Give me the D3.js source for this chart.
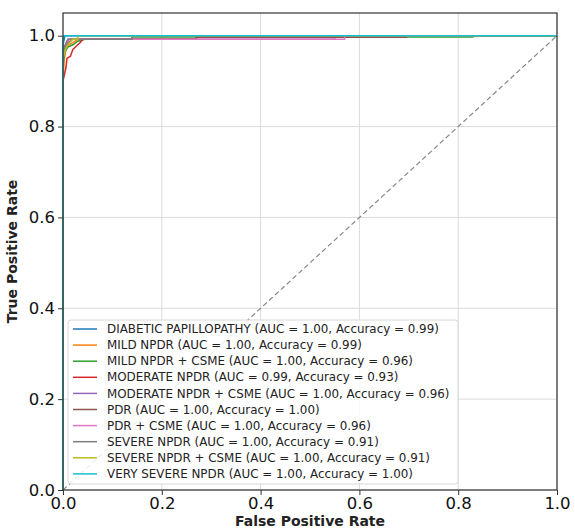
<!DOCTYPE html>
<html>
<head>
<meta charset="utf-8">
<script src="https://cdn.jsdelivr.net/npm/d3@7"></script>
<style>
  body { margin: 0; background: #fff; }
  svg { display: block; font-family: "DejaVu Sans", sans-serif; }
</style>
</head>
<body>
<div id="chart"></div>
<script>
// class names and scores shown in the legend
var classNames = ["DIABETIC PAPILLOPATHY", "MILD NPDR", "MILD NPDR + CSME", "MODERATE NPDR",
  "MODERATE NPDR + CSME", "PDR", "PDR + CSME", "SEVERE NPDR", "SEVERE NPDR + CSME", "VERY SEVERE NPDR"];
var aucValues = [1.00, 1.00, 1.00, 0.99, 1.00, 1.00, 1.00, 1.00, 1.00, 1.00];
var accValues = [0.99, 0.99, 0.96, 0.93, 0.96, 1.00, 0.96, 0.91, 0.91, 1.00];

// roc points, one fpr / tpr array per class
var fprList = [
  [0, 0, 0.004, 1],
  [0, 0, 0.003, 0.006, 0.012, 0.02, 0.03, 0.14, 0.14, 1],
  [0, 0, 0.004, 0.01, 0.02, 0.03, 0.045, 0.14, 0.14, 0.83, 0.83, 1],
  [0, 0, 0.006, 0.008, 0.015, 0.02, 0.03, 0.035, 0.04, 0.27, 0.27, 0.695, 0.695, 1],
  [0, 0, 0.005, 0.01, 0.02, 0.55, 0.55, 1],
  [0, 0, 0.01, 0.27, 0.27, 0.695, 0.695, 1],
  [0, 0, 0.006, 0.012, 0.57, 0.57, 1],
  [0, 0, 0.006, 0.01, 0.14, 0.14, 1],
  [0, 0, 0.005, 0.01, 0.02, 0.03, 0.03, 1],
  [0, 0, 0.002, 1]
];
var tprList = [
  [0, 0.98, 1, 1],
  [0, 0.91, 0.95, 0.97, 0.98, 0.985, 0.992, 0.992, 1, 1],
  [0, 0.94, 0.965, 0.975, 0.98, 0.988, 0.992, 0.992, 0.997, 0.997, 1, 1],
  [0, 0.90, 0.93, 0.95, 0.955, 0.97, 0.98, 0.985, 0.992, 0.992, 0.997, 0.997, 1, 1],
  [0, 0.95, 0.97, 0.985, 0.992, 0.992, 1, 1],
  [0, 0.97, 0.992, 0.992, 0.997, 0.997, 1, 1],
  [0, 0.96, 0.98, 0.992, 0.992, 1, 1],
  [0, 0.96, 0.98, 0.992, 0.992, 1, 1],
  [0, 0.95, 0.97, 0.98, 0.992, 0.992, 1, 1],
  [0, 0.995, 1, 1]
];
var tickValues = [0, 0.2, 0.4, 0.6, 0.8, 1.0];

var colours = ["#1f77b4", "#ff7f0e", "#2ca02c", "#d62728", "#9467bd",
  "#8c564b", "#e377c2", "#7f7f7f", "#bcbd22", "#17becf"];

var W = 575, H = 528;
var margin = {top: 13, right: 18, bottom: 38, left: 63};
var width = W - margin.left - margin.right,
    height = H - margin.top - margin.bottom;

var svg = d3.select("#chart").append("svg")
    .attr("width", W)
    .attr("height", H)
  .append("g")
    .attr("transform", "translate(" + margin.left + "," + margin.top + ")");

var x = d3.scaleLinear().domain([0, 1]).range([0, width]);
var y = d3.scaleLinear().domain([0, 1.05]).range([height, 0]);

//grid lines
svg.append("g").selectAll("line.gx")
    .data(tickValues).enter().append("line")
    .attr("x1", function(d) { return x(d); })
    .attr("x2", function(d) { return x(d); })
    .attr("y1", 0).attr("y2", height)
    .attr("stroke", "#dcdcdc").attr("stroke-width", 1);
svg.append("g").selectAll("line.gy")
    .data(tickValues).enter().append("line")
    .attr("y1", function(d) { return y(d); })
    .attr("y2", function(d) { return y(d); })
    .attr("x1", 0).attr("x2", width)
    .attr("stroke", "#dcdcdc").attr("stroke-width", 1);

//chance diagonal
svg.append("line")
    .attr("x1", x(0)).attr("y1", y(0))
    .attr("x2", x(1)).attr("y2", y(1))
    .attr("stroke", "#888").attr("stroke-width", 1.2)
    .attr("stroke-dasharray", "5,3");

//roc curves
var line = d3.line()
    .x(function(d) { return x(d[0]); })
    .y(function(d) { return y(d[1]); });

classNames.forEach(function(name, i) {
  var pts = d3.zip(fprList[i], tprList[i]);
  svg.append("path")
      .datum(pts)
      .attr("fill", "none")
      .attr("stroke", colours[i])
      .attr("stroke-width", 1.5)
      .attr("d", line);
});

//axes
var xAxis = d3.axisBottom(x).tickValues(tickValues).tickSize(5).tickPadding(2)
    .tickFormat(d3.format(".1f"));
var yAxis = d3.axisLeft(y).tickValues(tickValues).tickSize(5).tickPadding(3)
    .tickFormat(d3.format(".1f"));

var gx = svg.append("g")
    .attr("transform", "translate(0," + height + ")")
    .call(xAxis);
var gy = svg.append("g").call(yAxis);

[gx, gy].forEach(function(g) {
  g.select(".domain").remove();
  g.selectAll("line").attr("stroke", "#333");
  g.selectAll("text")
      .attr("font-family", "DejaVu Sans, sans-serif")
      .attr("font-size", "16.5px")
      .attr("fill", "#111");
});

//frame
svg.append("rect")
    .attr("x", 0).attr("y", 0)
    .attr("width", width).attr("height", height)
    .attr("fill", "none")
    .attr("stroke", "#333").attr("stroke-width", 1.2);

//axis labels
svg.append("text")
    .attr("x", width / 2).attr("y", height + 36)
    .attr("text-anchor", "middle")
    .attr("font-size", "14px").attr("font-weight", "bold")
    .attr("fill", "#222")
    .text("False Positive Rate");

svg.append("text")
    .attr("transform", "translate(" + (-46) + "," + (height / 2) + ") rotate(-90)")
    .attr("text-anchor", "middle")
    .attr("font-size", "14px").attr("font-weight", "bold")
    .attr("fill", "#222")
    .text("True Positive Rate");

//legend
var legend = svg.append("g").attr("transform", "translate(5,307)");
legend.append("rect")
    .attr("x", 0).attr("y", 0)
    .attr("width", 390).attr("height", 164)
    .attr("rx", 3)
    .attr("fill", "#fff").attr("fill-opacity", 0.85)
    .attr("stroke", "#d8d8d8");

var items = legend.selectAll("g.item")
    .data(classNames).enter().append("g")
    .attr("transform", function(d, i) { return "translate(0," + (9 + i * 16.1) + ")"; });

items.append("line")
    .attr("x1", 5).attr("x2", 29)
    .attr("y1", 0).attr("y2", 0)
    .attr("stroke", function(d, i) { return colours[i]; })
    .attr("stroke-width", 1.5);

items.append("text")
    .attr("x", 39).attr("y", 0)
    .attr("dy", "0.35em")
    .attr("font-size", "11.9px")
    .attr("fill", "#222")
    .text(function(d, i) {
      return d + " (AUC = " + aucValues[i].toFixed(2) + ", Accuracy = " + accValues[i].toFixed(2) + ")";
    });
</script>
</body>
</html>
